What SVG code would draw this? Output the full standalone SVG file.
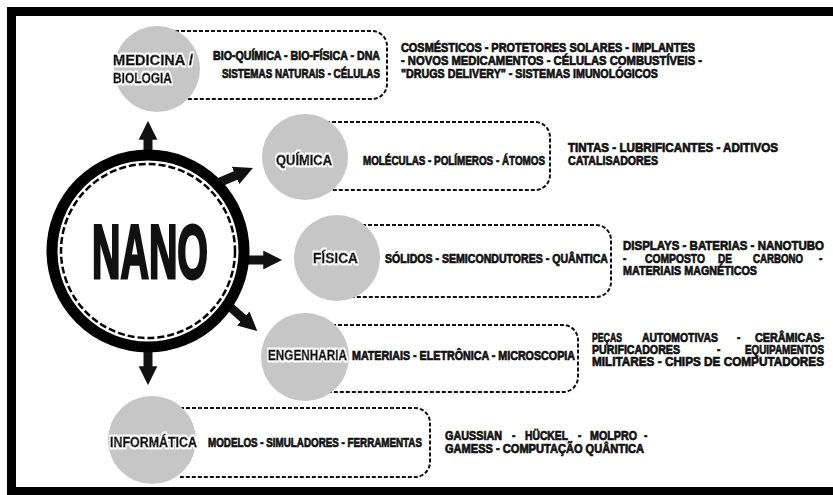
<svg xmlns="http://www.w3.org/2000/svg" width="833" height="495" viewBox="0 0 833 495">
<style>
text{font-family:"Liberation Sans","DejaVu Sans",sans-serif;font-weight:bold;fill:#111;stroke:#111;}
.lbl{font-size:11.6px;stroke-width:0.6px;filter:url(#halo);}
.t{font-size:10px;stroke-width:0.55px;}
.nano{font-size:76px;stroke-width:3px;}
.bub{fill:#c6c6c6;}
.box{fill:none;stroke:#111;stroke-width:2;stroke-dasharray:4 2;}
.arr{stroke:#111;stroke-width:9;fill:none;marker-end:url(#ah);}
</style>
<defs>
<marker id="ah" viewBox="0 0 10 10" refX="2" refY="5" markerWidth="2.1" markerHeight="2.1" orient="auto" markerUnits="strokeWidth"><path d="M0,0 L10,5 L0,10 z" fill="#111"/></marker>
<filter id="halo" x="-10%" y="-30%" width="120%" height="160%">
<feMorphology in="SourceAlpha" operator="dilate" radius="1.3" result="d"/>
<feFlood flood-color="#fff"/>
<feComposite in2="d" operator="in" result="w"/>
<feMerge><feMergeNode in="w"/><feMergeNode in="SourceGraphic"/></feMerge>
</filter>
</defs>
<rect width="833" height="495" fill="#fff"/>
<g id="frame" fill="#000">
<rect x="7" y="7" width="826" height="9"/>
<rect x="7" y="7" width="9" height="488"/>
<rect x="7" y="487" width="826" height="8"/>
</g>
<g id="connectors">
<line class="arr" x1="148" y1="152" x2="148" y2="136"/>
<line class="arr" x1="218" y1="183" x2="239" y2="174"/>
<line class="arr" x1="246" y1="260" x2="267" y2="260"/>
<line class="arr" x1="228" y1="305" x2="246" y2="321"/>
<line class="arr" x1="148" y1="350" x2="148" y2="370"/>
</g>
<g id="nano">
<circle cx="148" cy="251" r="96" fill="#fff" stroke="#000" stroke-width="11"/>
<circle cx="148" cy="251" r="87" fill="none" stroke="#000" stroke-width="2.5" stroke-dasharray="7 3"/>
<text class="nano" x="150" y="278" text-anchor="middle" textLength="116" lengthAdjust="spacingAndGlyphs">NANO</text>
</g>
<g id="medicina">
<path class="box" d="M175,31 H372 A15,15 0 0 1 387,46 V84 A15,15 0 0 1 372,99 H175"/>
<circle class="bub" cx="157" cy="69" r="43"/>
<text class="lbl" transform="scale(1,1.25)" x="113" y="52" textLength="80" lengthAdjust="spacingAndGlyphs">MEDICINA /</text>
<text class="lbl" transform="scale(1,1.25)" x="113" y="66.4" textLength="59" lengthAdjust="spacingAndGlyphs">BIOLOGIA</text>
<text class="t" transform="scale(1,1.25)" x="213" y="48" textLength="167" lengthAdjust="spacingAndGlyphs">BIO-QUÍMICA - BIO-FÍSICA - DNA</text>
<text class="t" transform="scale(1,1.25)" x="222" y="62.4" textLength="158" lengthAdjust="spacingAndGlyphs">SISTEMAS NATURAIS - CÉLULAS</text>
<text class="t" transform="scale(1,1.25)" x="401" y="41.6" textLength="294" lengthAdjust="spacingAndGlyphs">COSMÉSTICOS - PROTETORES SOLARES - IMPLANTES</text>
<text class="t" transform="scale(1,1.25)" x="401" y="52" textLength="301" lengthAdjust="spacingAndGlyphs">- NOVOS MEDICAMENTOS - CÉLULAS COMBUSTÍVEIS -</text>
<text class="t" transform="scale(1,1.25)" x="401" y="62.4" textLength="257" lengthAdjust="spacingAndGlyphs">"DRUGS DELIVERY" - SISTEMAS IMUNOLÓGICOS</text>
</g>
<g id="quimica">
<path class="box" d="M320,122 H535 A15,15 0 0 1 550,137 V175 A15,15 0 0 1 535,190 H320"/>
<circle class="bub" cx="305" cy="157" r="43"/>
<text class="lbl" transform="scale(1,1.25)" x="276" y="132" textLength="56" lengthAdjust="spacingAndGlyphs">QUÍMICA</text>
<text class="t" transform="scale(1,1.25)" x="363" y="132" textLength="182" lengthAdjust="spacingAndGlyphs">MOLÉCULAS - POLÍMEROS - ÁTOMOS</text>
<text class="t" transform="scale(1,1.25)" x="568" y="121.6" textLength="210" lengthAdjust="spacingAndGlyphs">TINTAS - LUBRIFICANTES - ADITIVOS</text>
<text class="t" transform="scale(1,1.25)" x="568" y="132" textLength="90" lengthAdjust="spacingAndGlyphs">CATALISADORES</text>
</g>
<g id="fisica">
<path class="box" d="M350,225 H596 A15,15 0 0 1 611,240 V282 A15,15 0 0 1 596,297 H350"/>
<circle class="bub" cx="337" cy="258" r="43"/>
<text class="lbl" transform="scale(1,1.25)" x="313" y="210.4" textLength="45" lengthAdjust="spacingAndGlyphs">FÍSICA</text>
<text class="t" transform="scale(1,1.25)" x="385" y="210.4" textLength="223" lengthAdjust="spacingAndGlyphs">SÓLIDOS - SEMICONDUTORES - QUÂNTICA</text>
<text class="t" transform="scale(1,1.25)" x="623" y="200" textLength="201" lengthAdjust="spacingAndGlyphs">DISPLAYS - BATERIAS - NANOTUBO</text>
<text class="t" transform="scale(1,1.25)" y="210.4"><tspan x="623">-</tspan><tspan x="645" textLength="60" lengthAdjust="spacingAndGlyphs">COMPOSTO</tspan><tspan x="718" textLength="14" lengthAdjust="spacingAndGlyphs">DE</tspan><tspan x="753" textLength="50" lengthAdjust="spacingAndGlyphs">CARBONO</tspan><tspan x="819">-</tspan></text>
<text class="t" transform="scale(1,1.25)" x="623" y="220" textLength="134" lengthAdjust="spacingAndGlyphs">MATERIAIS MAGNÉTICOS</text>
</g>
<g id="engenharia">
<path class="box" d="M320,325 H563 A15,15 0 0 1 578,340 V377 A15,15 0 0 1 563,392 H320"/>
<circle class="bub" cx="305" cy="357" r="44"/>
<text class="lbl" transform="scale(1,1.25)" x="268" y="288" textLength="79" lengthAdjust="spacingAndGlyphs">ENGENHARIA</text>
<text class="t" transform="scale(1,1.25)" x="352" y="288" textLength="223" lengthAdjust="spacingAndGlyphs">MATERIAIS - ELETRÔNICA - MICROSCOPIA</text>
<text class="t" transform="scale(1,1.25)" y="273.6"><tspan x="592" textLength="30" lengthAdjust="spacingAndGlyphs">PEÇAS</tspan><tspan x="642" textLength="76" lengthAdjust="spacingAndGlyphs">AUTOMOTIVAS</tspan><tspan x="737">-</tspan><tspan x="755" textLength="69" lengthAdjust="spacingAndGlyphs">CERÂMICAS-</tspan></text>
<text class="t" transform="scale(1,1.25)" y="283.2"><tspan x="592" textLength="88" lengthAdjust="spacingAndGlyphs">PURIFICADORES</tspan><tspan x="717">-</tspan><tspan x="745" textLength="79" lengthAdjust="spacingAndGlyphs">EQUIPAMENTOS</tspan></text>
<text class="t" transform="scale(1,1.25)" x="592" y="292.8" textLength="232" lengthAdjust="spacingAndGlyphs">MILITARES - CHIPS DE COMPUTADORES</text>
</g>
<g id="informatica">
<path class="box" d="M180,408 H415 A15,15 0 0 1 430,423 V462 A15,15 0 0 1 415,477 H180"/>
<circle class="bub" cx="152" cy="440" r="44"/>
<text class="lbl" transform="scale(1,1.25)" x="110" y="357.6" textLength="87" lengthAdjust="spacingAndGlyphs">INFORMÁTICA</text>
<text class="t" transform="scale(1,1.25)" x="208" y="357.6" textLength="214" lengthAdjust="spacingAndGlyphs">MODELOS - SIMULADORES - FERRAMENTAS</text>
<text class="t" transform="scale(1,1.25)" y="352"><tspan x="445" textLength="57" lengthAdjust="spacingAndGlyphs">GAUSSIAN</tspan><tspan x="512">-</tspan><tspan x="525" textLength="43" lengthAdjust="spacingAndGlyphs">HÜCKEL</tspan><tspan x="578">-</tspan><tspan x="590" textLength="47" lengthAdjust="spacingAndGlyphs">MOLPRO</tspan><tspan x="644">-</tspan></text>
<text class="t" transform="scale(1,1.25)" x="445" y="362.4" textLength="199" lengthAdjust="spacingAndGlyphs">GAMESS - COMPUTAÇÃO QUÂNTICA</text>
</g>
</svg>
